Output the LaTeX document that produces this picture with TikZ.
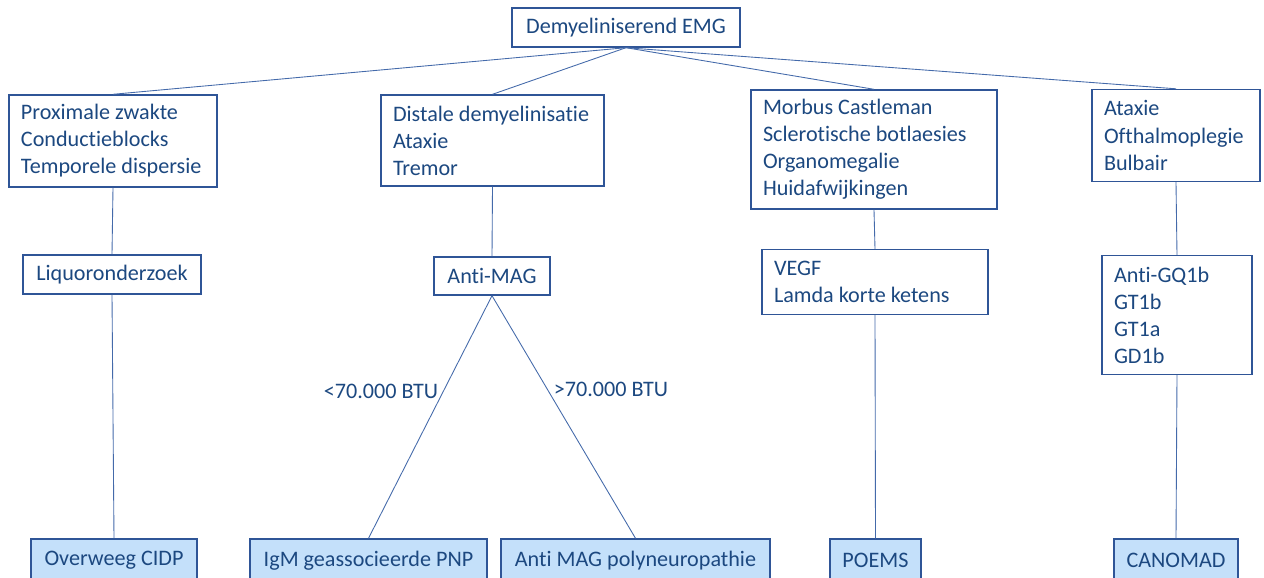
\documentclass[tikz,border=0pt]{standalone}
\usepackage{fontspec}
\setmainfont{Carlito}[Ligatures=NoCommon]
\usepackage{xcolor}
\usetikzlibrary{positioning}
\definecolor{txtblue}{RGB}{28,72,128}
\definecolor{edgeblue}{RGB}{47,85,151}
\definecolor{lineblue}{RGB}{68,106,170}
\definecolor{resfill}{RGB}{196,224,250}

\begin{document}
\begin{tikzpicture}[
    x=0.2mm, y=-0.2mm,
    every node/.style={font=\fontsize{12.6}{15.4}\selectfont, text=txtblue},
    box/.style={draw=edgeblue, line width=0.8pt, fill=white, inner xsep=2.4mm, inner ysep=0pt},
    listbox/.style={box, align=flush left},
    singlebox/.style={box, align=center},
    resultbox/.style={box, fill=resfill, align=center},
    link/.style={draw=lineblue, line width=0.5pt},
    cutlabel/.style={inner sep=0pt},
]
\clip (0,0) rectangle (1264,578);

% Top
\node[singlebox, minimum width=45.6mm, minimum height=7.8mm] (emg) at (626,27.5) {Demyeliniserend EMG};

% Clinical pictures
\node[listbox, minimum width=41.6mm, minimum height=18.4mm, text width=36.8mm] (prox) at (113,141)
    {Proximale zwakte\\Conductieblocks\\Temporele dispersie};
\node[listbox, minimum width=44.6mm, minimum height=18.2mm, text width=39.8mm] (dist) at (492.5,140.5)
    {Distale demyelinisatie\\Ataxie\\Tremor};
\node[listbox, minimum width=49.2mm, minimum height=23.8mm, text width=44.4mm] (morbus) at (874,149.5)
    {Morbus Castleman\\Sclerotische botlaesies\\Organomegalie\\Huidafwijkingen};
\node[listbox, minimum width=33.6mm, minimum height=18.4mm, text width=28.8mm] (atax) at (1176,135.5)
    {Ataxie\\Ofthalmoplegie\\Bulbair};

% Tests
\node[singlebox, minimum width=35.6mm, minimum height=7.8mm] (liquor) at (112,274.5) {Liquoronderzoek};
\node[singlebox, minimum width=23.2mm, minimum height=7.6mm] (antimag) at (492,276) {Anti-MAG};
\node[listbox, minimum width=45.2mm, minimum height=13mm, text width=40.4mm] (vegf) at (875,282)
    {VEGF\\Lamda korte ketens};
\node[listbox, minimum width=30mm, minimum height=23.8mm, text width=25.2mm] (gq) at (1177,315)
    {Anti-GQ1b\\GT1b\\GT1a\\GD1b};

% Results
\node[resultbox, minimum width=33.2mm, minimum height=8.6mm] (cidp) at (114,560.5) {Overweeg CIDP};
\node[resultbox, minimum width=47.4mm, minimum height=8.6mm] (igm) at (368.5,560.5) {IgM geassocieerde PNP};
\node[resultbox, minimum width=53.8mm, minimum height=8.6mm] (amp) at (635.5,560.5) {Anti MAG polyneuropathie};
\node[resultbox, minimum width=18.2mm, minimum height=8.6mm] (poems) at (875.5,560.5) {POEMS};
\node[resultbox, minimum width=24.8mm, minimum height=8.6mm] (canomad) at (1176,560.5) {CANOMAD};

% Connectors
\foreach \b in {prox,dist,morbus,atax}
    \draw[link] (emg.south) -- (\b.north);
\draw[link] (prox.south) -- (liquor.north);
\draw[link] (liquor.south) -- (cidp.north);
\draw[link] (dist.south) -- (antimag.north);
\draw[link] (antimag.south) -- (igm.north);
\draw[link] (antimag.south) -- (amp.north);
\draw[link] (morbus.south) -- (vegf.north);
\draw[link] (vegf.south) -- (poems.north);
\draw[link] (atax.south) -- (gq.north);
\draw[link] (gq.south) -- (canomad.north);

% Titer labels
\node[cutlabel] (low) at (381,391) {<70.000 BTU};
\node[cutlabel] (high) at (611,389) {>70.000 BTU};

\end{tikzpicture}
\end{document}
